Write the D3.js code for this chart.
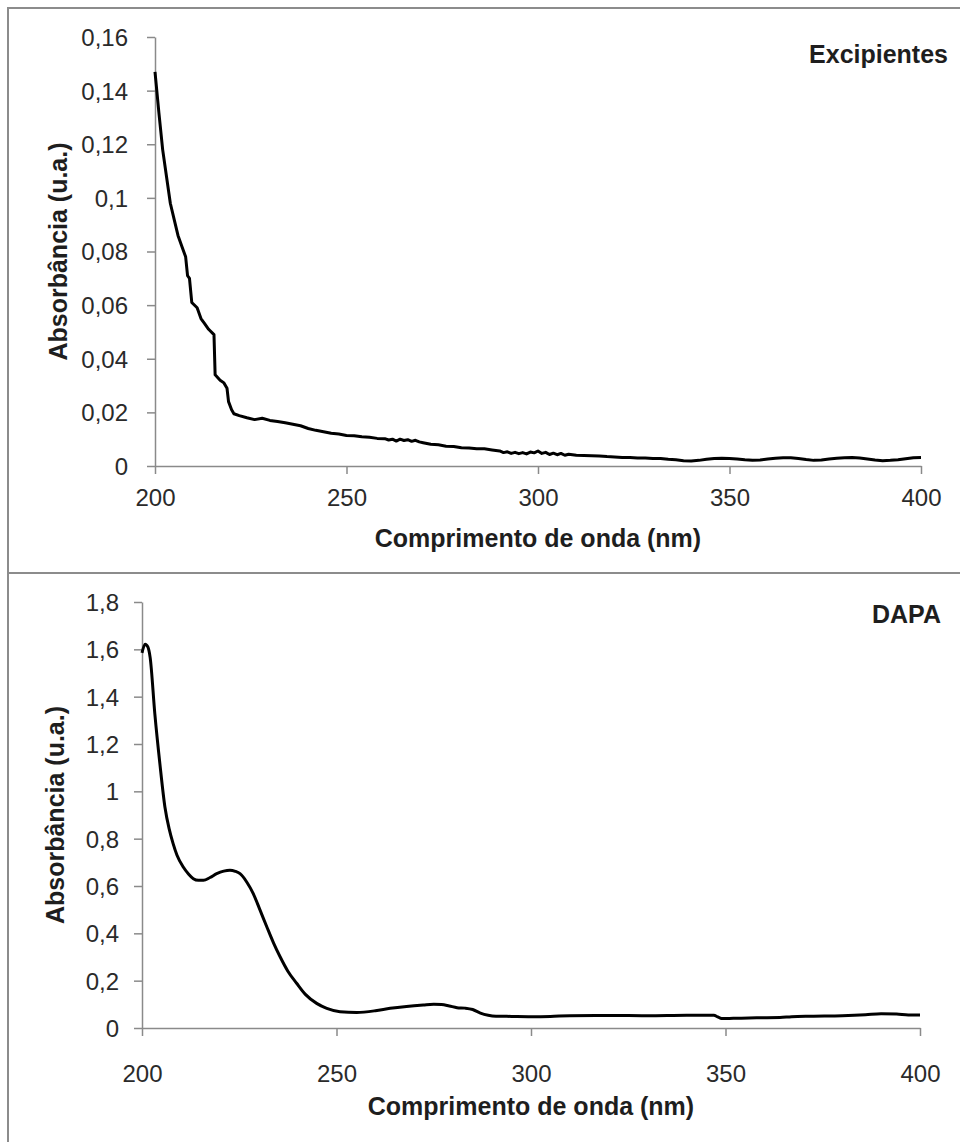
<!DOCTYPE html>
<html><head><meta charset="utf-8">
<script src="https://cdn.jsdelivr.net/npm/d3@7"></script>
<style>html,body{margin:0;padding:0;background:#fff;}svg{display:block;}</style>
</head><body>
<svg id="chart" width="960" height="1142"></svg>
<script>
// ---- Data ----
const xTicks = [200, 250, 300, 350, 400];
const xTickLabels = ["200", "250", "300", "350", "400"];

const excTicks = [0, 0.02, 0.04, 0.06, 0.08, 0.1, 0.12, 0.14, 0.16];
const excTickLabels = ["0", "0,02", "0,04", "0,06", "0,08", "0,1", "0,12", "0,14", "0,16"];
const dapaTicks = [0, 0.2, 0.4, 0.6, 0.8, 1, 1.2, 1.4, 1.6, 1.8];
const dapaTickLabels = ["0", "0,2", "0,4", "0,6", "0,8", "1", "1,2", "1,4", "1,6", "1,8"];

const excWavelength = [200,201,202,203,204,205,206,207,208,208.5,209,209.6,211,212,213,214,215.4,215.7,217,218,218.8,219.2,220,220.6,222,224,226,228,230,232,234,236,238,240,242,244,246,248,250,252,254,256,258,260,261,262,263,264,265,266,267,268,269,270,272,274,276,278,280,282,284,286,288,290,291,292,293,294,295,296,297,298,299,300,301,302,303,304,305,306,307,308,310,312,314,316,318,320,322,324,326,328,330,332,334,336,338,340,342,344,346,348,350,352,354,356,358,360,362,364,366,368,370,372,374,376,378,380,382,384,386,388,390,392,394,396,398,400];
const excAbs = [0.147,0.132,0.118,0.108,0.098,0.092,0.086,0.082,0.078,0.071,0.070,0.061,0.059,0.055,0.053,0.051,0.049,0.034,0.032,0.031,0.029,0.024,0.021,0.0195,0.0188,0.0180,0.0173,0.0178,0.0170,0.0166,0.0161,0.0156,0.0150,0.0140,0.0133,0.0128,0.0122,0.0119,0.0114,0.0113,0.0109,0.0107,0.0103,0.0102,0.0097,0.0100,0.0093,0.0100,0.0095,0.0098,0.0092,0.0096,0.0090,0.0087,0.0081,0.0079,0.0074,0.0073,0.0068,0.0067,0.0064,0.0064,0.0060,0.0056,0.0050,0.0053,0.0047,0.0051,0.0046,0.0050,0.0045,0.0052,0.0049,0.0056,0.0047,0.0051,0.0043,0.0048,0.0042,0.0047,0.0040,0.0044,0.0040,0.0039,0.0038,0.0037,0.0035,0.0034,0.0032,0.0032,0.0030,0.0030,0.0028,0.0028,0.0025,0.0023,0.0020,0.0019,0.0021,0.0025,0.0028,0.0029,0.0028,0.0026,0.0023,0.0021,0.0022,0.0026,0.0029,0.0031,0.0031,0.0028,0.0024,0.0021,0.0022,0.0026,0.0029,0.0031,0.0032,0.0030,0.0026,0.0022,0.0020,0.0021,0.0023,0.0027,0.0031,0.0032];

const dapaWavelength = [200,200.8,201.5,202.1,203.3,204.6,205.9,207,208,209,210.6,212,213.2,214.5,215.8,217.5,219.2,221,222.6,224,225.2,227,228.6,230.3,232.1,233.8,235.5,237.5,239.8,242,244.9,247.5,250.9,255.2,260,263.8,268,272.3,275,277,279,281,283,285,287,289,291,295,300,305,310,320,330,340,347,348,349,352,358,364,367,372,380,386,390,394,397,400];
const dapaAbs = [1.585,1.622,1.61,1.565,1.327,1.116,0.933,0.84,0.779,0.73,0.680,0.650,0.631,0.624,0.624,0.636,0.652,0.663,0.667,0.662,0.652,0.615,0.568,0.50,0.427,0.360,0.301,0.240,0.188,0.142,0.104,0.083,0.069,0.066,0.073,0.083,0.091,0.097,0.100,0.099,0.093,0.086,0.084,0.078,0.063,0.054,0.050,0.049,0.048,0.049,0.052,0.053,0.052,0.054,0.054,0.047,0.040,0.041,0.043,0.044,0.048,0.050,0.052,0.056,0.060,0.059,0.055,0.055];

const xTitle = "Comprimento de onda (nm)";
const yTitle = "Absorbância (u.a.)";

// ---- Layout ----
const panels = [
  { label: "Excipientes", wl: excWavelength, ab: excAbs, yMax: 0.16, yTicks: excTicks, yLabels: excTickLabels,
    x0: 155, x1: 921, yTop: 37, yBot: 466, frame: [8, 8, 980, 565], curve: d3.curveLinear,
    labelX: 948, labelY: 63, xLabelDy: 42, xTitleY: 547, yTitleX: 67, tickPad: 19 },
  { label: "DAPA", wl: dapaWavelength, ab: dapaAbs, yMax: 1.8, yTicks: dapaTicks, yLabels: dapaTickLabels,
    x0: 142, x1: 920, yTop: 602, yBot: 1028, frame: [8, 573, 980, 600], curve: d3.curveMonotoneX,
    labelX: 941, labelY: 623, xLabelDy: 56, xTitleY: 1115, yTitleX: 64, tickPad: 15 }
];

const svg = d3.select("#chart");
const FONT = "'Liberation Sans', Arial, Helvetica, sans-serif";

panels.forEach(p => {
  const g = svg.append("g");
  g.append("rect").attr("x", p.frame[0]).attr("y", p.frame[1]).attr("width", p.frame[2]).attr("height", p.frame[3])
    .attr("fill", "none").attr("stroke", "#8c8c8c").attr("stroke-width", 2);

  const x = d3.scaleLinear().domain([200, 400]).range([p.x0, p.x1]);
  const y = d3.scaleLinear().domain([0, p.yMax]).range([p.yBot, p.yTop]);

  const yAxis = d3.axisLeft(y).tickValues(p.yTicks).tickFormat((d, i) => p.yLabels[i])
    .tickSizeInner(8).tickSizeOuter(0).tickPadding(p.tickPad);
  const ya = g.append("g").attr("transform", `translate(${p.x0},0)`).call(yAxis);

  const xAxis = d3.axisBottom(x).tickValues(xTicks).tickFormat((d, i) => xTickLabels[i])
    .tickSizeInner(8).tickSizeOuter(0).tickPadding(p.xLabelDy - 27);
  const xa = g.append("g").attr("transform", `translate(0,${p.yBot})`).call(xAxis);

  [ya, xa].forEach(a => {
    a.select(".domain").attr("stroke", "#8a8a8a").attr("stroke-width", 1.5);
    a.selectAll(".tick line").attr("stroke", "#8a8a8a").attr("stroke-width", 1.5);
    a.selectAll(".tick text").attr("fill", "#2a2a2a").style("font-family", FONT).style("font-size", "24px");
  });
  ya.selectAll(".tick text").attr("dy", "0.35em");

  const data = p.wl.map((w, i) => [w, p.ab[i]]);
  g.append("path").datum(data)
    .attr("fill", "none").attr("stroke", "#000").attr("stroke-width", 3).attr("stroke-linejoin", "round")
    .attr("d", d3.line().x(d => x(d[0])).y(d => y(d[1])).curve(p.curve));

  g.append("text").attr("x", (p.x0 + p.x1) / 2).attr("y", p.xTitleY).attr("text-anchor", "middle")
    .style("font-family", FONT).style("font-size", "25px").style("font-weight", "bold").attr("fill", "#1e1e1e")
    .text(xTitle);

  g.append("text").attr("transform", `translate(${p.yTitleX},${(p.yTop + p.yBot) / 2}) rotate(-90)`)
    .attr("text-anchor", "middle")
    .style("font-family", FONT).style("font-size", "25px").style("font-weight", "bold").attr("fill", "#1e1e1e")
    .text(yTitle);

  g.append("text").attr("x", p.labelX).attr("y", p.labelY).attr("text-anchor", "end")
    .style("font-family", FONT).style("font-size", "25px").style("font-weight", "bold").attr("fill", "#1e1e1e")
    .text(p.label);
});
</script>
</body></html>
